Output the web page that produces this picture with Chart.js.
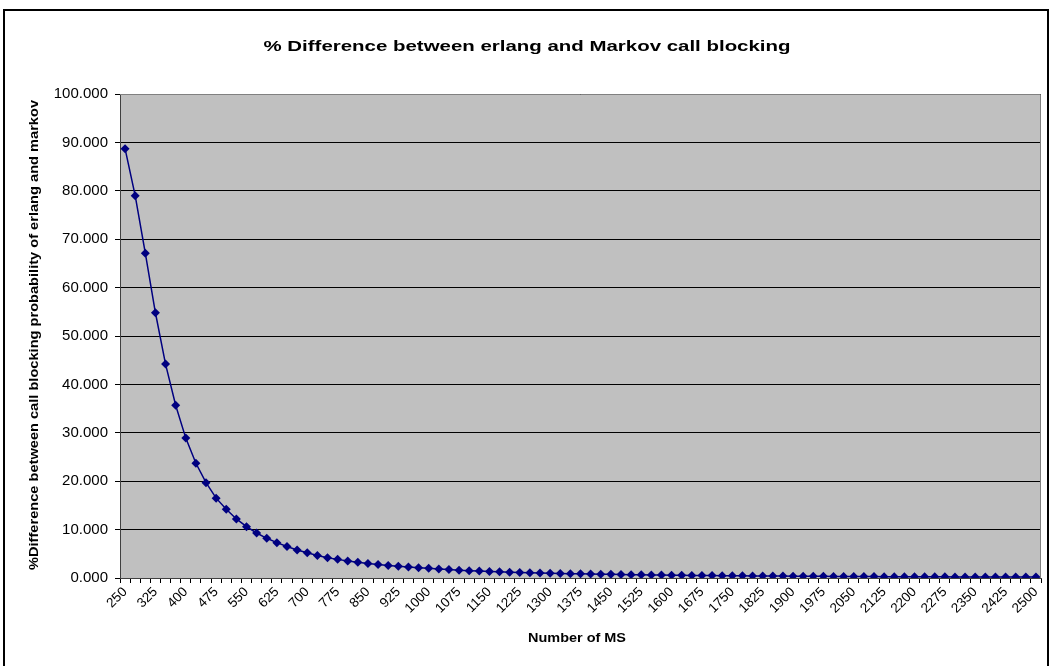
<!DOCTYPE html>
<html>
<head>
<meta charset="utf-8">
<script src="https://cdn.jsdelivr.net/npm/chart.js@4.4.1/dist/chart.umd.min.js"></script>
<style>
  html, body { margin: 0; padding: 0; background: #fff; overflow: hidden; }
  #wrap { width: 1052px; height: 666px; }
</style>
</head>
<body>
<div id="wrap"><canvas id="blockChart" width="1052" height="666"></canvas></div>
<script>
// Number of MS (x categories)
const numMS = [
  250, 275, 300, 325, 350, 375, 400, 425, 450, 475,
  500, 525, 550, 575, 600, 625, 650, 675, 700, 725,
  750, 775, 800, 825, 850, 875, 900, 925, 950, 975,
  1000, 1025, 1050, 1075, 1100, 1125, 1150, 1175, 1200, 1225,
  1250, 1275, 1300, 1325, 1350, 1375, 1400, 1425, 1450, 1475,
  1500, 1525, 1550, 1575, 1600, 1625, 1650, 1675, 1700, 1725,
  1750, 1775, 1800, 1825, 1850, 1875, 1900, 1925, 1950, 1975,
  2000, 2025, 2050, 2075, 2100, 2125, 2150, 2175, 2200, 2225,
  2250, 2275, 2300, 2325, 2350, 2375, 2400, 2425, 2450, 2475,
  2500
];

// % difference between erlang and markov call blocking
const pctDiff = [
  88.7, 79.0, 67.1, 54.8, 44.2, 35.7, 28.9, 23.7, 19.7, 16.5,
  14.2, 12.2, 10.6, 9.3, 8.2, 7.3, 6.5, 5.8, 5.2, 4.65,
  4.2, 3.85, 3.52, 3.24, 3.0, 2.8, 2.6, 2.45, 2.28, 2.14,
  2.02, 1.88, 1.75, 1.62, 1.52, 1.43, 1.35, 1.28, 1.21, 1.15,
  1.09, 1.04, 0.99, 0.94, 0.90, 0.86, 0.82, 0.78, 0.75, 0.72,
  0.69, 0.66, 0.63, 0.61, 0.58, 0.56, 0.54, 0.52, 0.50, 0.48,
  0.46, 0.45, 0.43, 0.42, 0.40, 0.39, 0.37, 0.36, 0.35, 0.34,
  0.33, 0.32, 0.31, 0.30, 0.29, 0.28, 0.27, 0.26, 0.26, 0.25,
  0.24, 0.24, 0.23, 0.22, 0.22, 0.21, 0.21, 0.20, 0.20, 0.19,
  0.19
];

const chartTitle = "% Difference between erlang and Markov call blocking";
const xTitle = "Number of MS";
const yTitle = "%Difference between call blocking probability of erlang and markov";

const FONT = "'Liberation Sans', Arial, sans-serif";

// excel text looks horizontally stretched, so draw the titles squeezed to a width
function stretchText(ctx, text, x, y, font, width, rot) {
  ctx.save();
  ctx.font = font;
  ctx.textAlign = "center";
  ctx.textBaseline = "middle";
  ctx.translate(x, y);
  if (rot) ctx.rotate(rot);
  ctx.scale(width / ctx.measureText(text).width, 1);
  ctx.fillStyle = "#000";
  ctx.fillText(text, 0, 0);
  ctx.restore();
}

// frame, grey plot area and titles
const excelLook = {
  id: "excelLook",
  beforeDraw(chart) {
    const ctx = chart.ctx;
    const a = chart.chartArea;
    ctx.save();
    ctx.fillStyle = "#fff";
    ctx.fillRect(0, 0, chart.width, chart.height);
    ctx.strokeStyle = "#000";
    ctx.lineWidth = 2;
    ctx.strokeRect(4, 10, 1044, 680);
    ctx.fillStyle = "#c0c0c0";
    ctx.fillRect(a.left, a.top, a.right - a.left, a.bottom - a.top);
    ctx.restore();
    stretchText(ctx, chartTitle, 527, 47, "bold 15px " + FONT, 527);
    stretchText(ctx, xTitle, 577, 638, "bold 13px " + FONT, 98);
    stretchText(ctx, yTitle, 34, 335, "bold 13px " + FONT, 470, -Math.PI / 2);
  },
  afterDatasetsDraw(chart) {
    const ctx = chart.ctx;
    const a = chart.chartArea;
    ctx.save();
    ctx.strokeStyle = "#808080";
    ctx.lineWidth = 1;
    ctx.beginPath();
    ctx.moveTo(a.left, a.top + 0.5);
    ctx.lineTo(a.right - 0.5, a.top + 0.5);
    ctx.lineTo(a.right - 0.5, a.bottom);
    ctx.stroke();
    ctx.restore();
  }
};

const ctx = document.getElementById("blockChart").getContext("2d");
new Chart(ctx, {
  type: "line",
  data: {
    labels: numMS,
    datasets: [
      {
        label: "% Difference",
        data: pctDiff,
        borderColor: "#000080",
        backgroundColor: "#000080",
        borderWidth: 1.5,
        pointStyle: "rectRot",
        pointRadius: 4.5,
        pointBorderWidth: 0,
        tension: 0,
      },
    ],
  },
  options: {
    responsive: false,
    animation: false,
    layout: {
      padding: { left: 22, right: 11, top: 94, bottom: 0 },
    },
    plugins: {
      legend: { display: false },
      title: { display: false },
      tooltip: { enabled: false },
    },
    scales: {
      x: {
        type: "category",
        offset: true,
        afterFit: (scale) => { scale.height = 88; },
        grid: {
          offset: true,
          drawOnChartArea: false,
          drawTicks: true,
          tickLength: 5,
          color: "#000",
        },
        border: { color: "#404040", width: 1 },
        ticks: {
          autoSkip: false,
          minRotation: 45,
          maxRotation: 45,
          padding: 1,
          color: "#000",
          font: { family: FONT, size: 13.5 },
          callback: function (val, i) {
            return i % 3 === 0 ? this.getLabelForValue(val) : "";
          },
        },
      },
      y: {
        min: 0,
        max: 100,
        afterFit: (scale) => { scale.width = 98; },
        grid: {
          color: "#000",
          lineWidth: 1,
          tickLength: 5,
        },
        border: { color: "#404040", width: 1 },
        ticks: {
          stepSize: 10,
          padding: 7,
          color: "#000",
          font: { family: FONT, size: 15 },
          callback: (v) => v.toFixed(3),
        },
      },
    },
  },
  plugins: [excelLook],
});
</script>
</body>
</html>
